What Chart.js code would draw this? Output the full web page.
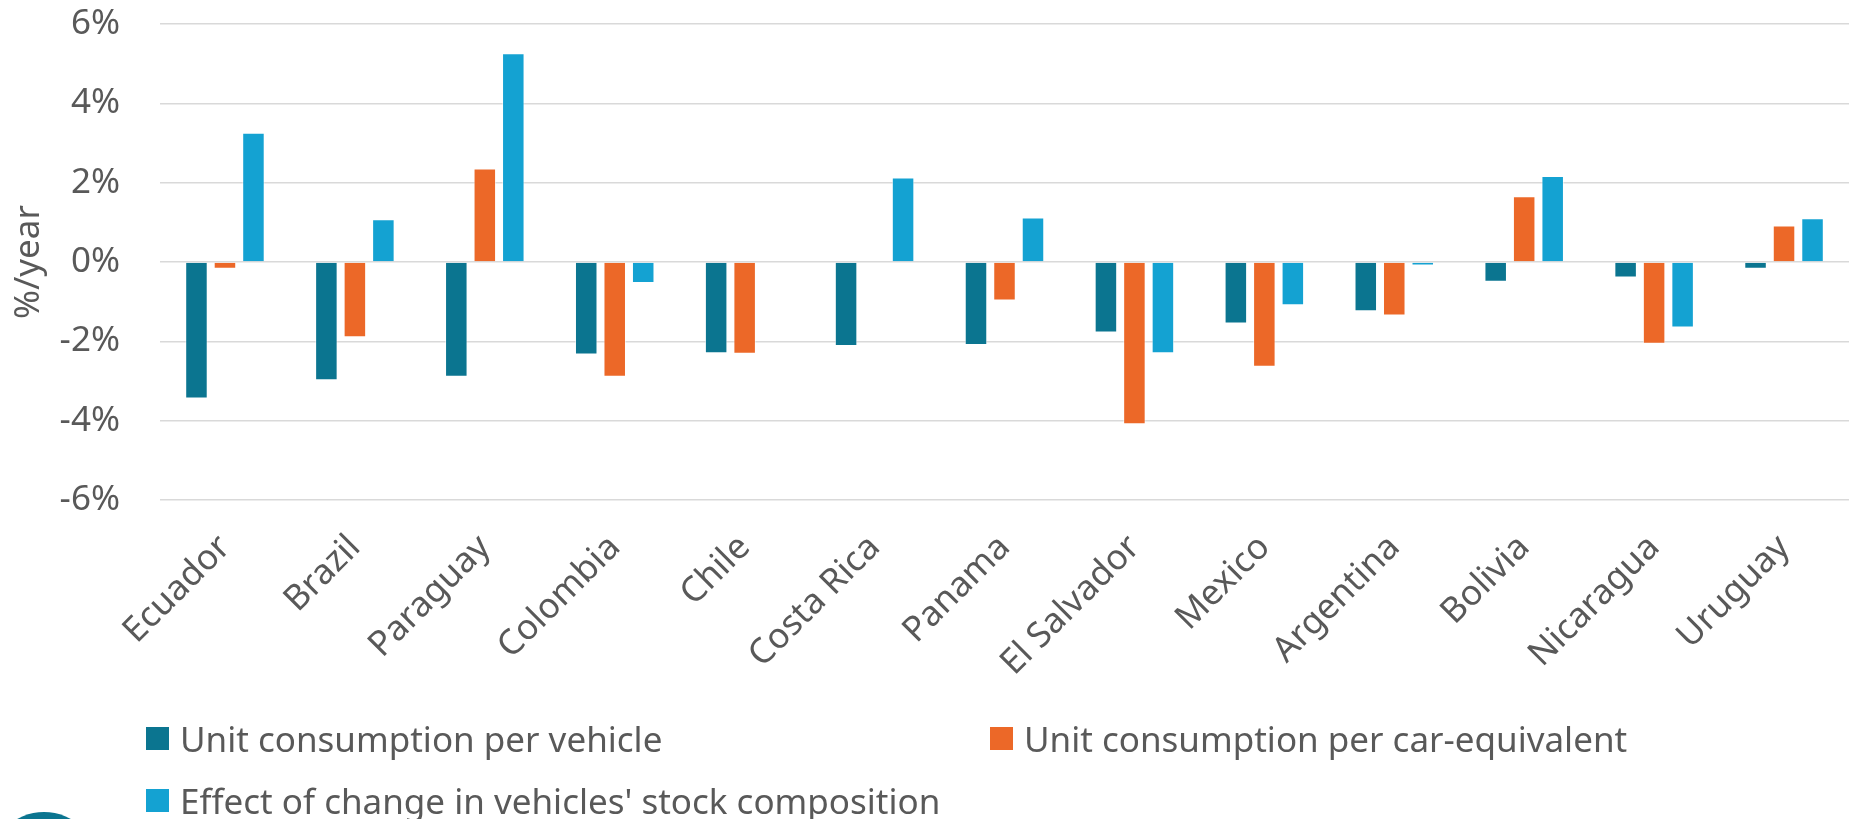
<!DOCTYPE html>
<html>
<head>
<meta charset="utf-8">
<script src="https://cdn.jsdelivr.net/npm/chart.js@4/dist/chart.umd.min.js"></script>
<style>
  html, body { margin: 0; padding: 0; background: #fff; }
  #wrap { position: relative; width: 1849px; height: 819px; overflow: hidden; }
  #c { position: absolute; left: 0; top: 0; }
  .lg { position: absolute; display: flex; align-items: center; font-family: "Noto Sans", sans-serif; font-size: 35px; color: #595959; white-space: nowrap; line-height: 1; }
  .lg span.box { display: inline-block; width: 23px; height: 23px; margin-right: 11px; }
  #logo { position: absolute; left: -11px; top: 812px; width: 110px; height: 110px; border-radius: 50%; background: #0B7590; }
</style>
</head>
<body>
<div id="wrap">
  <canvas id="c" width="1849" height="819"></canvas>
  <div id="legend"></div>
  <div id="logo"></div>
</div>
<script>
const categories = ['Ecuador','Brazil','Paraguay','Colombia','Chile','Costa Rica','Panama','El Salvador','Mexico','Argentina','Bolivia','Nicaragua','Uruguay'];
const seriesNames = ['Unit consumption per vehicle','Unit consumption per car-equivalent',"Effect of change in vehicles' stock composition"];
const perVehicle  = [-3.44,-2.98,-2.89,-2.33,-2.30,-2.12,-2.09,-1.78,-1.55,-1.24,-0.50,-0.39,-0.17];
const perCarEq    = [-0.17,-1.90, 2.36,-2.89,-2.31, null,-0.97,-4.09,-2.64,-1.35, 1.66,-2.06, 0.92];
const stockEffect = [ 3.26, 1.08, 5.26,-0.53, null, 2.13, 1.12,-2.30,-1.09,-0.09, 2.17,-1.65, 1.10];
const yTicks = [-6,-4,-2,0,2,4,6];
const colors = ['#0B7590','#EC6828','#14A2D2'];

const FONT = '"Noto Sans", sans-serif';
const TXT = '#595959';

const chart = new Chart(document.getElementById('c'), {
  type: 'bar',
  data: {
    labels: categories,
    datasets: [perVehicle, perCarEq, stockEffect].map((d, i) => ({
      label: seriesNames[i],
      data: d,
      backgroundColor: colors[i],
      borderColor: 'rgba(255,255,255,0.55)',
      borderWidth: 1,
      categoryPercentage: 0.658,
      barPercentage: 0.79
    }))
  },
  options: {
    responsive: false,
    animation: false,
    layout: { padding: { top: 24, right: 0, bottom: 0, left: 0 } },
    plugins: { legend: { display: false }, tooltip: { enabled: false } },
    scales: {
      x: {
        grid: { display: false, drawTicks: false },
        border: { display: false },
        ticks: {
          autoSkip: false, maxRotation: 45, minRotation: 45,
          padding: 27,
          color: TXT, font: { family: FONT, size: 35 }
        },
        afterFit: (s) => { s.height = 319; }
      },
      y: {
        min: -6, max: 6,
        afterBuildTicks: (s) => { s.ticks = yTicks.map(v => ({ value: v })); },
        grid: { color: '#d9d9d9', lineWidth: 1.5, drawTicks: true, tickLength: 40, tickColor: 'rgba(0,0,0,0)' },
        border: { display: false },
        ticks: {
          padding: 0,
          color: TXT, font: { family: FONT, size: 35 },
          callback: (v) => v + '%'
        },
        title: {
          display: true, text: '%/year', color: TXT,
          font: { family: FONT, size: 35 },
          padding: { top: 8, bottom: 0 }
        },
        afterFit: (s) => { s.width = 160; }
      }
    }
  }
});

// HTML legend built from the chart's datasets
const legendPos = [
  { left: 146, top: 738 },
  { left: 990, top: 738 },
  { left: 146, top: 800 }
];
const lg = document.getElementById('legend');
chart.data.datasets.forEach((ds, i) => {
  const d = document.createElement('div');
  d.className = 'lg';
  d.style.left = legendPos[i].left + 'px';
  d.style.top = (legendPos[i].top - 20) + 'px';
  d.style.height = '40px';
  const b = document.createElement('span');
  b.className = 'box';
  b.style.background = ds.backgroundColor;
  const t = document.createElement('span');
  t.textContent = ds.label;
  d.appendChild(b); d.appendChild(t);
  lg.appendChild(d);
});
</script>
</body>
</html>
